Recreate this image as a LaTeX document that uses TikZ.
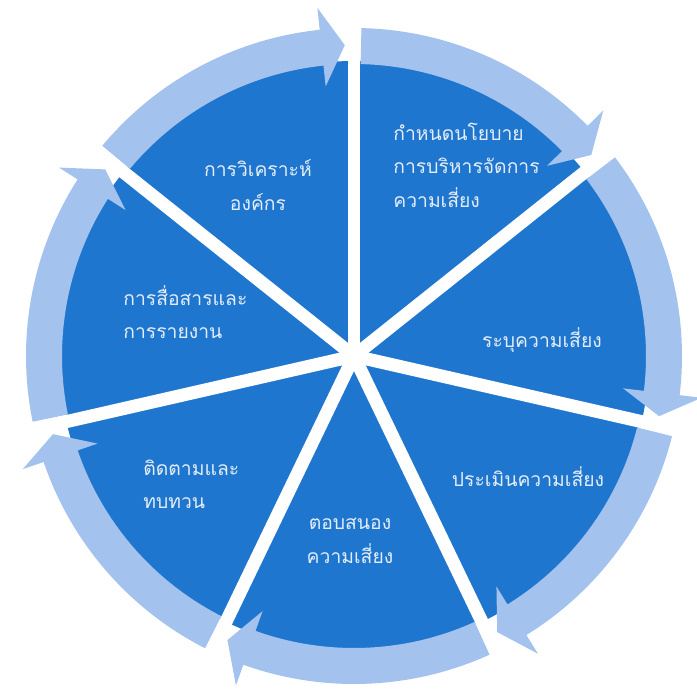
\documentclass[tikz,border=0pt]{standalone}
\usepackage{fontspec}
\newfontfamily\thaifont[Script=Thai]{Loma}
\definecolor{sectorblue}{RGB}{31,118,206}
\definecolor{ringblue}{RGB}{163,194,238}
\definecolor{labelwhite}{RGB}{228,237,249}
\tikzset{
  steplabel/.style={text=labelwhite, inner sep=0pt,
    font=\thaifont\fontsize{11}{19}\selectfont, align=center},
  steplabelleft/.style={steplabel, align=left, anchor=west},
  gapline/.style={white, line width=0.26cm},
}
\begin{document}
\begin{tikzpicture}[x=0.02cm, y=0.02cm]
    \useasboundingbox (-354,-338) rectangle (343,356);

    % Disc
    \fill[sectorblue] (0,0) circle (295);

    % Ring arrows (clockwise)
    \foreach \k in {0,...,6} {
        \pgfmathsetmacro\gs{90-\k*360/7-1.3}
        \pgfmathsetmacro\ge{90-(\k+1)*360/7+6.0}
        \pgfmathsetmacro\gt{90-(\k+1)*360/7+1.7}
        \fill[ringblue] (\gs:328) arc[start angle=\gs, end angle=\ge, radius=328]
            -- (\ge:350) -- (\gt:311) -- (\ge:271) -- (\ge:292)
            arc[start angle=\ge, end angle=\gs, radius=292] -- cycle;
    }

    % Gaps between sectors
    \foreach \k in {0,...,6}
        \draw[gapline] (0,0) -- ({90-\k*360/7}:345);

    % Labels
    \node[steplabel] (analysis) at (-96,171) {การวิเคราะห์\\องค์กร};
    \node[steplabelleft] (policy) at (39,191) {กำหนดนโยบาย\\การบริหารจัดการ\\ความเสี่ยง};
    \node[steplabel] (identify) at (188,16) {ระบุความเสี่ยง};
    \node[steplabel] (assess) at (174,-121) {ประเมินความเสี่ยง};
    \node[steplabel] (respond) at (-4,-185) {ตอบสนอง\\ความเสี่ยง};
    \node[steplabelleft] (monitor) at (-211,-128) {ติดตามและ\\ทบทวน};
    \node[steplabelleft] (report) at (-231,44) {การสื่อสารและ\\การรายงาน};
\end{tikzpicture}
\end{document}
